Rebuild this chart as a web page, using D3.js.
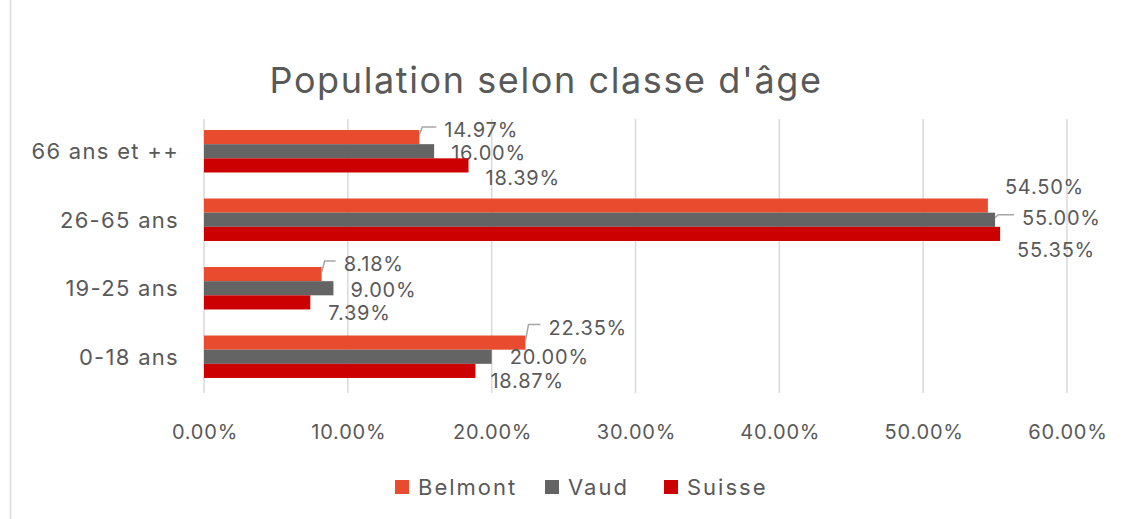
<!DOCTYPE html>
<html>
<head>
<meta charset="utf-8">
<script src="https://cdn.jsdelivr.net/npm/d3@7"></script>
<style>
  body { margin: 0; background: #fff; }
  text { font-family: Inter, "Open Sans", sans-serif; fill: #595959; }
</style>
</head>
<body>
<div id="chart"></div>
<script>
// data
var categories = ["0-18 ans", "19-25 ans", "26-65 ans", "66 ans et ++"]
var seriesNames = ["Belmont", "Vaud", "Suisse"]
var belmont = [22.35, 8.18, 54.50, 14.97]
var vaud = [20.00, 9.00, 55.00, 16.00]
var suisse = [18.87, 7.39, 55.35, 18.39]
var xTicks = [0, 10, 20, 30, 40, 50, 60]

// label placement (dx from bar end, dy from bar centre), same order as categories
var labelOffsets = [
  [[23, -15], [22, -10], [17, -19], [25, -7]],
  [[18, 0], [17, 2], [27, -2], [17, 2]],
  [[15, 10], [18, 11], [17, 16], [17, 13]]
]
var leaders = [[true, true, false, true], [false, false, true, false], [false, false, false, false]]

var colors = ["#E84B2D", "#646464", "#CC0000"]
var allSeries = [belmont, vaud, suisse]

var width = 1124, height = 519

var svg = d3.select("#chart")
  .append("svg")
    .attr("width", width)
    .attr("height", height)

// left border
svg.append("line")
  .attr("x1", 10.5).attr("x2", 10.5)
  .attr("y1", 0).attr("y2", height)
  .attr("stroke", "#D9D9D9")
  .attr("stroke-width", 1.5)

svg.append("text")
  .attr("x", 546)
  .attr("y", 80)
  .attr("text-anchor", "middle")
  .attr("dominant-baseline", "central")
  .style("font-size", "36px")
  .style("letter-spacing", "1.6px")
  .text("Population selon classe d'âge")

var x = d3.scaleLinear()
  .domain([0, 60])
  .range([204, 1067])

var y = d3.scaleBand()
  .domain(categories.slice().reverse())
  .range([117, 391])
  .paddingInner(0.38)
  .paddingOuter(0.19)

var sub = d3.scaleBand()
  .domain(seriesNames)
  .range([0, y.bandwidth()])

// gridlines
svg.append("g")
  .selectAll("line")
  .data(xTicks)
  .enter()
  .append("line")
    .attr("x1", d => x(d)).attr("x2", d => x(d))
    .attr("y1", 119).attr("y2", 393)
    .attr("stroke", "#D9D9D9")
    .attr("stroke-width", 1.5)

// x tick labels
svg.append("g")
  .selectAll("text")
  .data(xTicks)
  .enter()
  .append("text")
    .attr("x", d => x(d) + 1)
    .attr("y", 432)
    .attr("text-anchor", "middle")
    .attr("dominant-baseline", "central")
    .style("font-size", "20px")
    .style("letter-spacing", "0.8px")
    .text(d => d.toFixed(2) + "%")

// category labels
svg.append("g")
  .selectAll("text")
  .data(categories)
  .enter()
  .append("text")
    .attr("x", 179)
    .attr("y", d => y(d) + y.bandwidth() / 2)
    .attr("text-anchor", "end")
    .attr("dominant-baseline", "central")
    .style("font-size", "22px")
    .style("letter-spacing", "1.3px")
    .text(d => d)

// bars + labels
allSeries.forEach(function(values, s) {
  var name = seriesNames[s]
  var g = svg.append("g")
  g.selectAll("rect")
    .data(values)
    .enter()
    .append("rect")
      .attr("x", x(0))
      .attr("y", (d, i) => y(categories[i]) + sub(name))
      .attr("width", d => x(d) - x(0))
      .attr("height", sub.bandwidth())
      .attr("fill", colors[s])

  values.forEach(function(v, i) {
    var cy = y(categories[i]) + sub(name) + sub.bandwidth() / 2
    var off = labelOffsets[s][i]
    var tx = x(v) + off[0], ty = cy + off[1]
    if (leaders[s][i]) {
      g.append("path")
        .attr("d", "M" + x(v) + "," + (cy - 2) + "L" + (x(v) + 3) + "," + (ty - 3) + "L" + (tx - 8) + "," + (ty - 3))
        .attr("fill", "none")
        .attr("stroke", "#A6A6A6")
        .attr("stroke-width", 1.5)
    }
    g.append("text")
      .attr("x", tx)
      .attr("y", ty)
      .attr("dominant-baseline", "central")
      .style("font-size", "20px")
      .style("letter-spacing", "0.8px")
      .text(v.toFixed(2) + "%")
  })
})

// legend
var legendX = [395, 545, 664]
var legend = svg.append("g")
seriesNames.forEach(function(n, i) {
  legend.append("rect")
    .attr("x", legendX[i]).attr("y", 480)
    .attr("width", 14).attr("height", 14)
    .attr("fill", colors[i])
  legend.append("text")
    .attr("x", legendX[i] + 23)
    .attr("y", 487)
    .attr("dominant-baseline", "central")
    .style("font-size", "22px")
    .style("letter-spacing", "2px")
    .text(n)
})
</script>
</body>
</html>
